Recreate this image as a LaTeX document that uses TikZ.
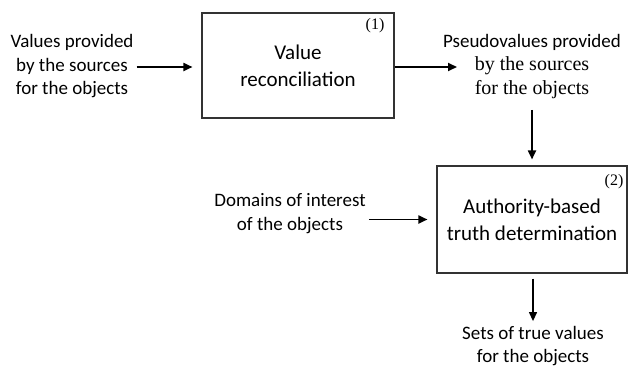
\documentclass[tikz,border=0pt]{standalone}
\usepackage{fontspec}
\setmainfont{Carlito}
\newfontfamily\tms{Liberation Serif}
\usetikzlibrary{arrows.meta}
\begin{document}
\begin{tikzpicture}[x=1pt,y=-1pt,
  boxnode/.style={draw=black!80,line width=1.1pt,inner sep=0pt,align=center,font=\fontsize{21}{27}\selectfont},
  lbl/.style={align=center,inner sep=3pt,font=\fontsize{19}{23.5}\selectfont},
  arr/.style={line width=1.8pt,-{Triangle[length=9pt,width=8pt]}},
  tag/.style={inner sep=0pt,font=\tms\fontsize{16}{18}\selectfont}]
\useasboundingbox (0,0) rectangle (628,369);
\node[boxnode,minimum width=192pt,minimum height=105pt] (b1) at (298,65.5) {Value\\reconciliation};
\node[boxnode,minimum width=190pt,minimum height=107pt] (b2) at (532,219.5) {Authority-based\\truth determination};
\node[tag] (t1) at (375,26) {(1)};
\node[tag] (t2) at (614,182) {(2)};
\node[lbl] (lt) at (72,66.5) {Values provided\\by the sources\\for the objects};
\node[lbl] (pv) at (532,66.5) {Pseudovalues provided\\{\tms\fontsize{20}{23.5}\selectfont by the sources}\\{\tms\fontsize{20}{23.5}\selectfont for the objects}};
\node[lbl] (dom) at (290,213.5) {Domains of interest\\of the objects};
\node[lbl,font=\fontsize{19}{23}\selectfont] (st) at (533,346) {Sets of true values\\for the objects};
\coordinate (pvin) at (457,67);
\draw[arr,shorten >=9pt] (lt.east |- 0,67) -- (b1.west |- 0,67);
\draw[arr] (b1.east |- pvin) -- (pvin);
\draw[arr,shorten <=8pt,shorten >=6pt] (pv.south -| b2.north) -- (b2.north);
\draw[arr,shorten >=9pt] (dom.east |- b2.west) -- (b2.west);
\draw[arr,line width=1.3pt,shorten <=5pt,shorten >=2pt] (b2.south -| 533,0) -- (st.north -| 533,0);
\end{tikzpicture}
\end{document}
